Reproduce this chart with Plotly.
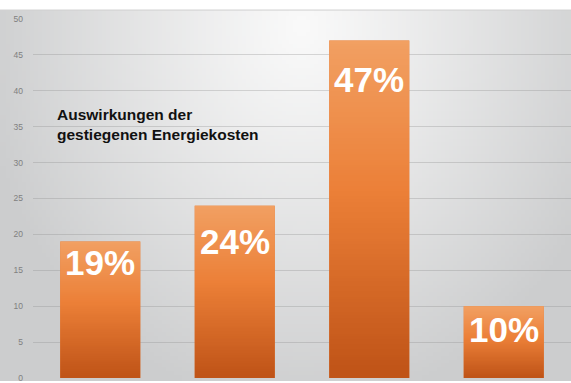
import base64
import struct
import zlib

import plotly.graph_objects as go

# ---------------- data ----------------
categories = ["A", "B", "C", "D"]
values = [19, 24, 47, 10]
labels = ["19%", "24%", "47%", "10%"]
title_lines = ["Auswirkungen der", "gestiegenen Energiekosten"]
y_ticks = [0, 5, 10, 15, 20, 25, 30, 35, 40, 45, 50]

# ---------------- style ----------------
W, H = 571, 383
M_L, M_R, M_T, M_B = 33, 0, 19, 3
PLOT_W = W - M_L - M_R
PLOT_H = H - M_T - M_B
BAR_WIDTH = 0.595
label_shift = [-21, -36, -39, -23]  # px offset of label centre below bar top


def png_uri(w, h, fn):
    raw = bytearray()
    for j in range(h):
        raw.append(0)
        for i in range(w):
            r, g, b = fn(i, j)
            raw += bytes((int(r), int(g), int(b)))

    def chunk(tag, data):
        c = struct.pack(">I", len(data)) + tag + data
        return c + struct.pack(">I", zlib.crc32(tag + data) & 0xFFFFFFFF)

    png = b"\x89PNG\r\n\x1a\n"
    png += chunk(b"IHDR", struct.pack(">IIBBBBB", w, h, 8, 2, 0, 0, 0))
    png += chunk(b"IDAT", zlib.compress(bytes(raw), 9))
    png += chunk(b"IEND", b"")
    return "data:image/png;base64," + base64.b64encode(png).decode()


def lerp(c1, c2, t):
    return tuple(a + (b - a) * t for a, b in zip(c1, c2))


# radial grey background (scaled by 4)
BG_W, BG_H = 143, 94
def bg_fn(i, j):
    x = i * 4.0
    y = 10 + j * (H - 10) / BG_H
    dx = (x - 300) / 330.0
    dy = (y - 25) / 390.0
    d = min(1.0, (dx * dx + dy * dy) ** 0.5)
    t = d ** 1.1
    return lerp((250, 250, 250), (204, 205, 206), t)

bg_uri = png_uri(BG_W, BG_H, bg_fn)

# vertical orange gradient for bars (top -> bottom)
def bar_fn(i, j):
    t = j / 63.0
    if t < 0.45:
        return lerp((242, 160, 98), (236, 128, 56), t / 0.45)
    return lerp((236, 128, 56), (192, 84, 24), (t - 0.45) / 0.55)

bar_uri = png_uri(1, 64, bar_fn)

fig = go.Figure()
fig.add_trace(go.Bar(
    x=categories,
    y=values,
    marker=dict(color="#e47a36", line=dict(width=0)),
    width=BAR_WIDTH,
    hoverinfo="skip",
))

images = [dict(
    source=bg_uri, xref="paper", yref="paper",
    x=-M_L / PLOT_W, y=1 + (M_T - 10) / PLOT_H,
    sizex=W / PLOT_W, sizey=(H - 10) / PLOT_H,
    xanchor="left", yanchor="top", sizing="stretch", layer="below",
)]
for i, v in enumerate(values):
    images.append(dict(
        source=bar_uri, xref="x", yref="y",
        x=i, y=v, sizex=BAR_WIDTH, sizey=v,
        xanchor="center", yanchor="top", sizing="stretch", layer="above",
    ))

annotations = []
for i, (v, lab) in enumerate(zip(values, labels)):
    annotations.append(dict(
        x=i, y=v, xref="x", yref="y", text=lab, showarrow=False,
        yanchor="middle", xanchor="center", yshift=label_shift[i],
        font=dict(family="Liberation Sans, Arial, sans-serif", size=35,
                  color="white", weight="bold"),
    ))
annotations.append(dict(
    xref="paper", yref="paper",
    x=(55 - M_L) / PLOT_W, y=1 - (104 - M_T) / PLOT_H,
    xanchor="left", yanchor="top", align="left", showarrow=False,
    text="<br>".join(title_lines),
    font=dict(family="Liberation Sans, Arial, sans-serif", size=15.5,
              color="#111111", weight="bold"),
))

fig.update_layout(
    width=W, height=H,
    margin=dict(l=M_L, r=M_R, t=M_T, b=M_B, pad=0),
    paper_bgcolor="white",
    plot_bgcolor="rgba(0,0,0,0)",
    showlegend=False,
    images=images,
    annotations=annotations,
    bargap=1 - BAR_WIDTH,
    shapes=[dict(type="line", xref="paper", yref="paper",
                 x0=-M_L / PLOT_W, x1=1, y0=1 + (M_T - 10) / PLOT_H,
                 y1=1 + (M_T - 10) / PLOT_H,
                 line=dict(color="#cfcfcf", width=1), layer="below")],
    xaxis=dict(showticklabels=False, showgrid=False, zeroline=False,
               showline=False, fixedrange=True),
    yaxis=dict(range=[0, 50], tickvals=y_ticks,
               showgrid=True, gridcolor="rgba(140,140,140,0.32)", gridwidth=1,
               zeroline=False, showline=False, ticks="",
               ticklabelstandoff=9, ticklabeloverflow="allow",
               tickfont=dict(family="Liberation Sans, Arial, sans-serif",
                             size=8.5, color="#808080")),
)

fig.write_html("out.html", config={"displayModeBar": False})
